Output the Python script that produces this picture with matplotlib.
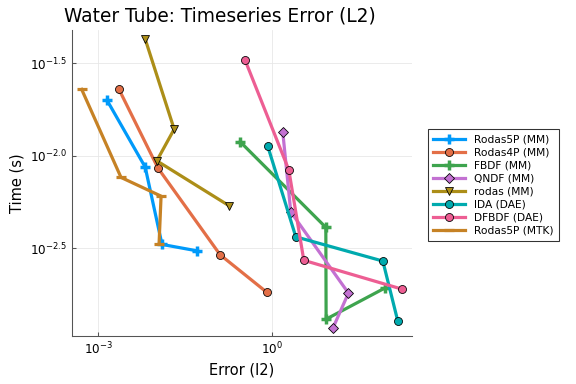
import numpy as np
import matplotlib.pyplot as plt

# log10 error / log10 time
rodas5p_mm_x = [-2.85, -2.19, -1.90, -1.29]
rodas5p_mm_y = [-1.699, -2.061, -2.479, -2.514]
rodas4p_x = [-2.645, -1.97, -0.897, -0.091]
rodas4p_y = [-1.639, -2.066, -2.535, -2.738]
fbdf_x = [-0.552, 0.927, 0.932, 1.95]
fbdf_y = [-1.924, -2.387, -2.883, -2.714]
qndf_x = [0.185, 0.322, 1.317, 1.047]
qndf_y = [-1.874, -2.303, -2.742, -2.933]
rodas_x = [-2.19, -1.69, -1.99, -0.742]
rodas_y = [-1.369, -1.856, -2.027, -2.270]
ida_x = [-0.074, 0.409, 1.911, 2.17]
ida_y = [-1.949, -2.438, -2.569, -2.895]
dfbdf_x = [-0.466, 0.288, 0.547, 2.245]
dfbdf_y = [-1.483, -2.076, -2.565, -2.721]
rodas5p_mtk_x = [-3.286, -2.607, -1.916, -1.951]
rodas5p_mtk_y = [-1.641, -2.117, -2.218, -2.479]

series = [
    ("Rodas5P (MM)", rodas5p_mm_x, rodas5p_mm_y, "#009AFA", "P"),
    ("Rodas4P (MM)", rodas4p_x, rodas4p_y, "#E36F47", "o"),
    ("FBDF (MM)", fbdf_x, fbdf_y, "#3EA44E", "P"),
    ("QNDF (MM)", qndf_x, qndf_y, "#C371D2", "D"),
    ("rodas (MM)", rodas_x, rodas_y, "#AC8E18", "v"),
    ("IDA (DAE)", ida_x, ida_y, "#00AAAE", "o"),
    ("DFBDF (DAE)", dfbdf_x, dfbdf_y, "#ED5E93", "o"),
    ("Rodas5P (MTK)", rodas5p_mtk_x, rodas5p_mtk_y, "#C68225", "_"),
]

fig = plt.figure(figsize=(6, 4), dpi=96)
ax = fig.add_axes([72/576, 1-336/384, 340/576, 306/384])

for name, xs, ys, c, m in series:
    x = 10.0 ** np.array(xs)
    y = 10.0 ** np.array(ys)
    if m == "P":
        ax.plot(x, y, color=c, lw=2.4, marker="+", ms=7, mew=2.6, label=name)
    elif m == "_":
        ax.plot(x, y, color=c, lw=2.4, marker="_", ms=8, mew=2.4, label=name)
    else:
        ms = 5 if m == "D" else 6
        ax.plot(x, y, color=c, lw=2.4, marker=m, ms=ms, mec="black", mew=0.6, label=name)

ax.set_xscale("log")
ax.set_yscale("log")
ax.set_xlim(10**-3.453, 10**2.414)
ax.set_ylim(10**-2.974, 10**-1.32)
ax.set_xticks([1e-3, 1e0])
ax.set_xticklabels(["$10^{-3}$", "$10^{0}$"])
ax.set_yticks([10**-2.5, 10**-2.0, 10**-1.5])
ax.set_yticklabels(["$10^{-2.5}$", "$10^{-2.0}$", "$10^{-1.5}$"])
ax.minorticks_off()
ax.tick_params(direction="in", length=3, labelsize=9, color="#555555")
ax.grid(True, color="#e6e6e6", lw=0.6)
ax.spines["top"].set_visible(False)
ax.spines["right"].set_visible(False)
for s in ["left", "bottom"]:
    ax.spines[s].set_color("#555555")

ax.set_xlabel("Error (l2)", fontsize=11)
ax.set_ylabel("Time (s)", fontsize=11)
ax.set_title("Water Tube: Timeseries Error (L2)", fontsize=14, x=(220-72)/340)

leg = ax.legend(loc="upper left", bbox_to_anchor=(428/576, 1-129/384),
                bbox_transform=fig.transFigure, fontsize=8, frameon=True,
                fancybox=False, edgecolor="black", borderaxespad=0,
                handlelength=3, labelspacing=0.28, borderpad=0.5)
leg.get_frame().set_linewidth(0.8)

fig.savefig("out.png", dpi=96)
